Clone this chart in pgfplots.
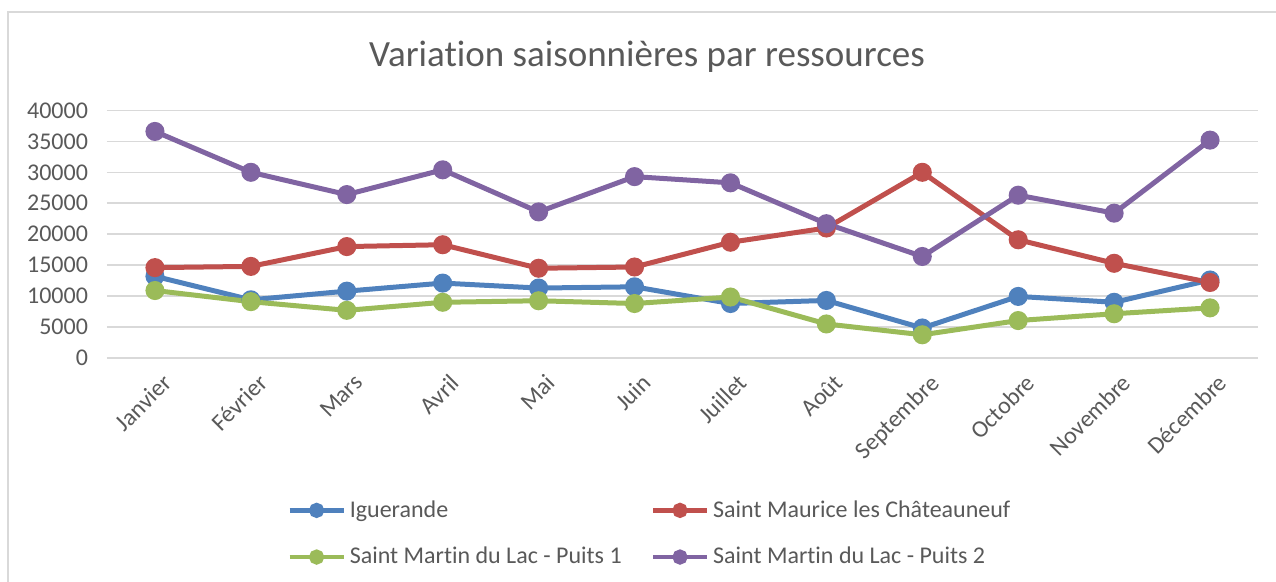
\documentclass[border=0pt]{standalone}
\usepackage{pgfplots}
\pgfplotsset{compat=1.18}
\usepackage{fontspec}
\setmainfont{Carlito}[Ligatures=NoCommon]
\definecolor{txt}{HTML}{595959}
\definecolor{grd}{HTML}{D9D9D9}
\definecolor{cA}{HTML}{4F81BD}
\definecolor{cB}{HTML}{C0504D}
\definecolor{cC}{HTML}{9BBB59}
\definecolor{cD}{HTML}{8064A2}
\begin{document}
\begin{tikzpicture}
\path[use as bounding box] (0pt,0pt) rectangle (638pt,-291pt);
\begin{scope}
\clip (0pt,0pt) rectangle (638pt,-291pt);
\draw[grd, line width=0.8pt] (4pt,-6pt) rectangle (650pt,-300pt);
\end{scope}
\node[txt, font=\fontsize{18.5}{22}\selectfont] at (323.5pt,-28.5pt) {Variation saisonnières par ressources};
\begin{axis}[
  at={(53.5pt,-179pt)}, anchor=south west,
  scale only axis, width=575.5pt, height=123.8pt,
  xmin=-0.5, xmax=11.5, ymin=0, ymax=40000,
  xtick={0,...,11},
  xticklabels={Janvier,Février,Mars,Avril,Mai,Juin,Juillet,Août,Septembre,Octobre,Novembre,Décembre},
  ytick={0,5000,...,40000},
  scaled y ticks=false,
  /pgf/number format/fixed,
  /pgf/number format/1000 sep={},
  /pgf/number format/assume math mode=true,
  ymajorgrids, grid style={grd, line width=0.8pt},
  axis line style={draw=none},
  major tick length=0pt,
  tick label style={txt, font=\fontsize{12}{14}\selectfont},
  yticklabel style={xshift=-6pt},
  xticklabel style={rotate=45, anchor=north east, xshift=0.5pt, yshift=-4pt},
  every axis plot/.append style={line width=2.5pt, mark=*, mark size=3.5pt},
  legend columns=2,
  legend style={draw=none, at={(0.1564,-0.558)}, anchor=north west, font=\fontsize{12}{14}\selectfont, text=txt, inner sep=0pt, row sep=9.5pt},
  legend cell align=left,
  legend image code/.code={\draw[#1, mark repeat=2, mark phase=2, mark size=2.7pt, line width=2.2pt] plot coordinates {(0pt,0pt) (13.5pt,0pt) (27pt,0pt)};},
]
\addplot[cA, mark options={fill=cA}] coordinates {(0,13200)(1,9400)(2,10800)(3,12100)(4,11300)(5,11500)(6,8800)(7,9300)(8,4850)(9,9950)(10,9000)(11,12600)};
\addlegendentry{\makebox[148.5pt][l]{Iguerande}}
\addplot[cB, mark options={fill=cB}] coordinates {(0,14600)(1,14800)(2,18000)(3,18300)(4,14500)(5,14700)(6,18700)(7,21000)(8,30000)(9,19100)(10,15300)(11,12200)};
\addlegendentry{Saint Maurice les Châteauneuf}
\addplot[cC, mark options={fill=cC}] coordinates {(0,10900)(1,9100)(2,7700)(3,9000)(4,9250)(5,8800)(6,9850)(7,5500)(8,3750)(9,6050)(10,7150)(11,8100)};
\addlegendentry{\makebox[148.5pt][l]{Saint Martin du Lac - Puits 1}}
\addplot[cD, mark options={fill=cD}] coordinates {(0,36600)(1,30000)(2,26400)(3,30400)(4,23600)(5,29300)(6,28300)(7,21700)(8,16400)(9,26300)(10,23400)(11,35200)};
\addlegendentry{Saint Martin du Lac - Puits 2}
\end{axis}
\end{tikzpicture}
\end{document}
